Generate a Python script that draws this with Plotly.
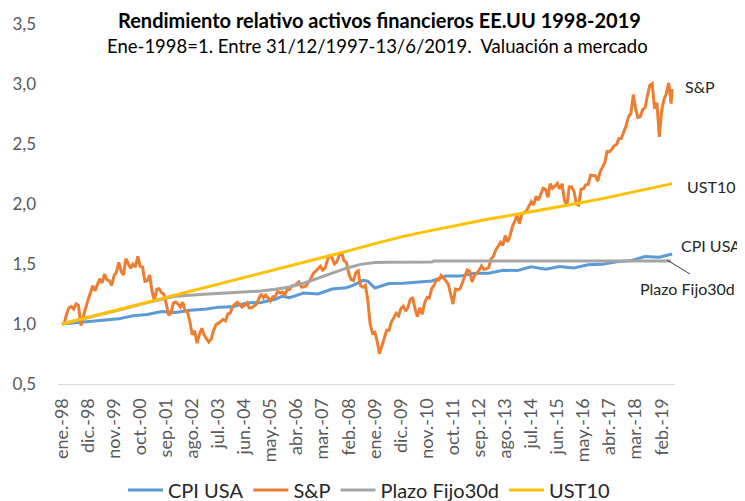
import pandas as pd
import plotly.graph_objects as go

FONT = "Lato"

# ---------------- data (Ene-1998 = 1) ----------------
# S&P: month-end values, 31/12/1997 .. 13/6/2019
sp_values = [
    1.000,
    1.010, 1.081, 1.135, 1.146, 1.124, 1.168, 1.155, 0.986, 1.048, 1.132, 1.199, 1.267,  # 1998
    1.319, 1.276, 1.326, 1.376, 1.342, 1.415, 1.369, 1.361, 1.322, 1.404, 1.431, 1.514,  # 1999
    1.437, 1.408, 1.544, 1.497, 1.464, 1.499, 1.474, 1.564, 1.480, 1.473, 1.355, 1.361,  # 2000
    1.408, 1.278, 1.196, 1.288, 1.294, 1.262, 1.248, 1.168, 1.073, 1.092, 1.174, 1.183,  # 2001
    1.165, 1.140, 1.182, 1.110, 1.100, 1.020, 0.910, 0.944, 0.840, 0.913, 0.965, 0.907,  # 2002
    0.882, 0.850, 0.874, 0.945, 0.993, 1.004, 1.020, 1.039, 1.026, 1.083, 1.090, 1.146,  # 2003
    1.166, 1.180, 1.161, 1.141, 1.155, 1.176, 1.135, 1.138, 1.149, 1.165, 1.210, 1.249,  # 2004
    1.217, 1.240, 1.217, 1.192, 1.228, 1.228, 1.272, 1.258, 1.266, 1.244, 1.288, 1.286,  # 2005
    1.319, 1.320, 1.334, 1.351, 1.309, 1.309, 1.316, 1.344, 1.377, 1.420, 1.443, 1.462,  # 2006
    1.482, 1.450, 1.464, 1.528, 1.577, 1.549, 1.500, 1.519, 1.573, 1.597, 1.526, 1.513,  # 2007
    1.421, 1.371, 1.363, 1.428, 1.443, 1.319, 1.306, 1.322, 1.202, 0.998, 0.924, 0.931,  # 2008
    0.851, 0.752, 0.822, 0.899, 0.947, 0.947, 1.018, 1.052, 1.089, 1.068, 1.129, 1.149,  # 2009
    1.107, 1.138, 1.205, 1.223, 1.123, 1.062, 1.135, 1.081, 1.176, 1.219, 1.217, 1.296,  # 2010
    1.325, 1.368, 1.366, 1.405, 1.386, 1.361, 1.332, 1.256, 1.166, 1.291, 1.285, 1.296,  # 2011
    1.352, 1.407, 1.451, 1.440, 1.350, 1.404, 1.421, 1.449, 1.485, 1.455, 1.459, 1.470,  # 2012
    1.544, 1.561, 1.617, 1.646, 1.680, 1.655, 1.737, 1.683, 1.733, 1.810, 1.861, 1.905,  # 2013
    1.837, 1.916, 1.929, 1.941, 1.982, 2.020, 1.990, 2.064, 2.032, 2.080, 2.131, 2.122,  # 2014
    2.056, 2.169, 2.131, 2.149, 2.172, 2.126, 2.168, 2.032, 1.979, 2.143, 2.144, 2.106,  # 2015
    1.999, 1.991, 2.123, 2.128, 2.161, 2.163, 2.240, 2.237, 2.234, 2.191, 2.266, 2.307,  # 2016
    2.348, 2.436, 2.435, 2.457, 2.485, 2.497, 2.546, 2.547, 2.596, 2.654, 2.728, 2.755,  # 2017
    2.910, 2.797, 2.721, 2.729, 2.788, 2.801, 2.902, 2.990, 3.003, 2.794, 2.844, 2.560,  # 2018
    2.787, 2.869, 2.921, 3.010, 2.836, 2.960,                                            # 2019
]

cpi_dates = [
    "1997-12-31", "1998-06-30", "1998-12-31", "1999-06-30", "1999-12-31", "2000-06-30",
    "2000-12-31", "2001-06-30", "2001-12-31", "2002-06-30", "2002-12-31", "2003-06-30",
    "2003-12-31", "2004-06-30", "2004-12-31", "2005-06-30", "2005-09-30", "2005-12-31",
    "2006-06-30", "2006-12-31", "2007-06-30", "2007-12-31", "2008-03-31", "2008-07-31",
    "2008-09-30", "2008-12-31", "2009-06-30", "2009-12-31", "2010-06-30", "2010-12-31",
    "2011-06-30", "2011-12-31", "2012-06-30", "2012-12-31", "2013-06-30", "2013-12-31",
    "2014-06-30", "2014-12-31", "2015-06-30", "2015-12-31", "2016-06-30", "2016-12-31",
    "2017-06-30", "2017-12-31", "2018-06-30", "2018-12-31", "2019-06-13",
]
cpi_values = [
    1.000, 1.011, 1.016, 1.030, 1.043, 1.069,
    1.079, 1.104, 1.095, 1.115, 1.122, 1.139,
    1.143, 1.176, 1.180, 1.206, 1.232, 1.220,
    1.258, 1.251, 1.292, 1.302, 1.324, 1.364,
    1.357, 1.300, 1.337, 1.339, 1.352, 1.359,
    1.399, 1.399, 1.423, 1.423, 1.448, 1.445,
    1.477, 1.456, 1.479, 1.466, 1.494, 1.497,
    1.519, 1.528, 1.562, 1.557, 1.583,
]

pf_dates = [
    "1997-12-31", "1998-12-31", "1999-12-31", "2000-12-31", "2001-06-30", "2001-12-31",
    "2002-12-31", "2003-10-31", "2004-12-31", "2005-06-30", "2005-12-31", "2006-06-30",
    "2006-12-31", "2007-06-30", "2007-12-31", "2008-06-30", "2008-12-31", "2009-06-30",
    "2010-12-31", "2011-01-31", "2019-05-31",
]
pf_values = [
    1.000, 1.057, 1.117, 1.178, 1.205, 1.232,
    1.248, 1.260, 1.275, 1.290, 1.308, 1.340,
    1.380, 1.425, 1.465, 1.497, 1.512, 1.515,
    1.517, 1.524, 1.526,
]

ust_dates = [
    "1997-12-31", "1998-12-31", "1999-12-31", "2000-12-31", "2001-12-31", "2002-12-31",
    "2003-12-31", "2004-12-31", "2005-12-31", "2006-12-31", "2007-12-31", "2008-12-31",
    "2009-12-31", "2010-12-31", "2011-12-31", "2012-12-31", "2013-12-31", "2014-12-31",
    "2015-12-31", "2016-12-31", "2017-12-31", "2018-12-31", "2019-06-13",
]
ust_values = [
    1.000, 1.060, 1.122, 1.184, 1.244, 1.300,
    1.360, 1.420, 1.485, 1.545, 1.605, 1.670,
    1.730, 1.780, 1.830, 1.875, 1.915, 1.955,
    2.000, 2.045, 2.095, 2.150, 2.170,
]

tick_dates = [
    "1998-01-01", "1998-12-01", "1999-11-01", "2000-10-01", "2001-09-01", "2002-08-01",
    "2003-07-01", "2004-06-01", "2005-05-01", "2006-04-01", "2007-03-01", "2008-02-01",
    "2009-01-01", "2009-12-01", "2010-11-01", "2011-10-01", "2012-09-01", "2013-08-01",
    "2014-07-01", "2015-06-01", "2016-05-01", "2017-04-01", "2018-03-01", "2019-02-01",
]
tick_labels = [
    "ene.-98", "dic.-98", "nov.-99", "oct.-00", "sep.-01", "ago.-02",
    "jul.-03", "jun.-04", "may.-05", "abr.-06", "mar.-07", "feb.-08",
    "ene.-09", "dic.-09", "nov.-10", "oct.-11", "sep.-12", "ago.-13",
    "jul.-14", "jun.-15", "may.-16", "abr.-17", "mar.-18", "feb.-19",
]

# month-end dates for the S&P series
sp_dates = (["1997-12-31"]
            + [d.strftime("%Y-%m-%d") for d in pd.date_range("1998-01-31", "2019-05-31", freq="ME")]
            + ["2019-06-13"])

# ---------------- figure ----------------
C_CPI, C_SP, C_PF, C_UST = "#5B9BD5", "#ED7D31", "#A5A5A5", "#FFC000"
LW = 3

fig = go.Figure()
fig.add_trace(go.Scatter(x=cpi_dates, y=cpi_values, name="CPI USA", mode="lines",
                         line=dict(color=C_CPI, width=LW)))
fig.add_trace(go.Scatter(x=sp_dates, y=sp_values, name="S&P", mode="lines",
                         line=dict(color=C_SP, width=LW)))
fig.add_trace(go.Scatter(x=pf_dates, y=pf_values, name="Plazo Fijo30d", mode="lines",
                         line=dict(color=C_PF, width=LW)))
fig.add_trace(go.Scatter(x=ust_dates, y=ust_values, name="UST10", mode="lines",
                         line=dict(color=C_UST, width=LW)))

# the page body has an 8px margin: the figure is drawn 8px right/down
OFF = 8
W, H = 745 - OFF, 501 - OFF
L, R, T, B = 50, 70, 16, 117
pw, ph = W - L - R, H - T - B


def px_x(px):  # page pixel -> paper coordinate
    return (px - OFF - L) / pw


def px_y(py):
    return (H - B - (py - OFF)) / ph


TXT = "#262626"
ann = [
    dict(text="<b>Rendimiento relativo activos financieros EE.UU 1998-2019</b>",
         x=px_x(379), y=px_y(20), font=dict(size=20, color="#000000")),
    dict(text="Ene-1998=1. Entre 31/12/1997-13/6/2019.  Valuación a mercado",
         x=px_x(377), y=px_y(46), font=dict(size=18.5, color="#000000")),
]
for a in ann:
    a.update(xref="paper", yref="paper", showarrow=False, xanchor="center", yanchor="middle",
             font=dict(family=FONT, **a["font"]))

labels = [
    ("S&P", 683, 86),
    ("UST10", 685, 187),
    ("CPI USA", 679, 245),
    ("Plazo Fijo30d", 638, 288),
]
for t, lx, ly in labels:
    ann.append(dict(text=t, x=px_x(lx), y=px_y(ly), xref="paper", yref="paper",
                    showarrow=False, xanchor="left", yanchor="middle",
                    font=dict(family=FONT, size=16, color=TXT)))

fig.update_layout(
    width=W, height=H,
    margin=dict(l=L, r=R, t=T, b=B, autoexpand=False),
    paper_bgcolor="white", plot_bgcolor="white",
    separators=",.",
    font=dict(family=FONT, color="#595959"),
    annotations=ann,
    shapes=[dict(type="line", xref="paper", yref="paper",
                 x0=px_x(667), y0=px_y(260), x1=px_x(690), y1=px_y(274),
                 line=dict(color="#404040", width=1))],
    showlegend=True,
    legend=dict(orientation="h", x=px_x(369), y=px_y(490), xanchor="center", yanchor="middle",
                font=dict(family=FONT, size=20, color="#262626"), itemwidth=35,
                bgcolor="rgba(0,0,0,0)"),
    xaxis=dict(type="date", range=["1997-11-10", "2019-07-20"], automargin=False,
               tickmode="array", tickvals=tick_dates, ticktext=tick_labels,
               tickangle=-90, tickfont=dict(family=FONT, size=18, color="#595959"),
               showgrid=False, zeroline=False, showline=True, linecolor="#D9D9D9", linewidth=1,
               ticks="", ticklabelstandoff=6),
    yaxis=dict(range=[0.5, 3.5], dtick=0.5, tick0=0.5, tickformat=".1f", automargin=False,
               tickfont=dict(family=FONT, size=17, color="#595959"),
               showgrid=False, zeroline=False, showline=False, ticks="",
               ticklabelstandoff=21),
)

fig.write_html("out.html")
